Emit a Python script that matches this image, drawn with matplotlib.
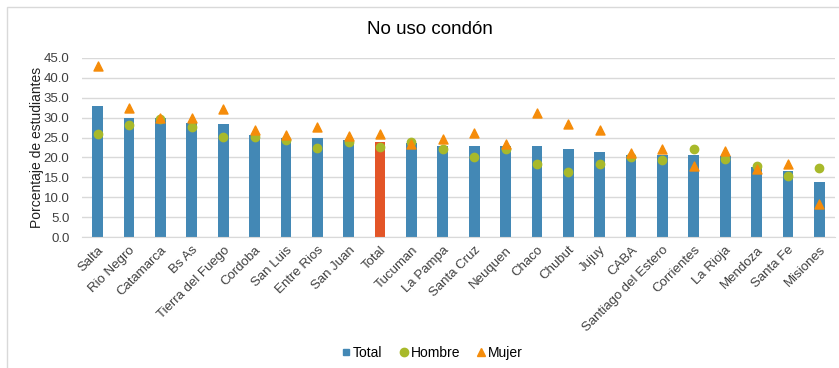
import matplotlib.pyplot as plt
from matplotlib.lines import Line2D
from matplotlib.patches import Rectangle

plt.rcParams['font.family'] = ['Liberation Sans', 'DejaVu Sans']

# ── Datos ─────────────────────────────────────────────────────────────────────
provincias = ["Salta", "Rio Negro", "Catamarca", "Bs As", "Tierra del Fuego", "Cordoba",
              "San Luis", "Entre Rios", "San Juan", "Total", "Tucuman", "La Pampa",
              "Santa Cruz", "Neuquen", "Chaco", "Chubut", "Jujuy", "CABA",
              "Santiago del Estero", "Corrientes", "La Rioja", "Mendoza", "Santa Fe", "Misiones"]
total  = [33.0, 30.0, 29.8, 28.7, 28.5, 25.7, 25.0, 25.0, 24.5, 24.0, 23.6, 23.0,
          23.0, 22.8, 22.8, 22.2, 21.3, 20.6, 20.5, 20.5, 20.3, 17.5, 16.7, 13.8]
hombre = [25.9, 28.2, 29.7, 27.7, 25.1, 25.1, 24.3, 22.4, 23.9, 22.7, 24.0, 22.0,
          20.0, 22.2, 18.3, 16.3, 18.4, 20.1, 19.4, 22.2, 19.6, 17.9, 15.3, 17.4]
mujer  = [42.9, 32.4, 29.9, 29.8, 32.3, 26.9, 25.6, 27.6, 25.3, 25.8, 23.5, 24.6,
          26.1, 23.3, 31.1, 28.5, 26.8, 21.1, 22.0, 17.8, 21.5, 17.2, 18.4, 8.3]

c_bar, c_tot, c_h, c_m = "#4388B5", "#E35527", "#A8B92A", "#F58C0A"

# ── Gráfica ───────────────────────────────────────────────────────────────────
fig = plt.figure(figsize=(8.39, 3.68), dpi=100)
ax = fig.add_axes([82/839, 1-237/368, (835-82)/839, (237-58)/368])

x = range(len(provincias))
colores = [c_tot if p == "Total" else c_bar for p in provincias]
ax.bar(x, total, width=0.34, color=colores, zorder=2)
ax.scatter(x, hombre, marker="o", s=36, color=c_h, zorder=3)
ax.scatter(x, mujer, marker="^", s=42, color=c_m, zorder=4)

ax.set_xlim(-0.5, len(provincias) - 0.5)
ax.set_ylim(0, 45)
ax.set_yticks([i * 5 for i in range(10)])
ax.set_yticklabels([f"{i*5:.1f}" for i in range(10)], fontsize=9.5, color="#404040")
ax.set_xticks(list(x))
ax.set_xticklabels(provincias, rotation=45, ha="right", rotation_mode="anchor",
                   fontsize=9.5, color="#404040")
ax.tick_params(axis="y", length=0, pad=9)
ax.tick_params(axis="x", length=0, pad=5)
ax.grid(axis="y", color="#D9D9D9", lw=1, zorder=0)
for s in ["top", "right", "left"]:
    ax.spines[s].set_visible(False)
ax.spines["bottom"].set_color("#D9D9D9")
ax.set_ylabel("Porcentaje de estudiantes", fontsize=10, color="#202020", labelpad=0)

fig.text(0.513, 1 - 30/368, "No uso condón", ha="center", va="center", fontsize=13.5)

handles = [Line2D([], [], marker="s", ls="", color=c_bar, markersize=5),
           Line2D([], [], marker="o", ls="", color=c_h, markersize=6),
           Line2D([], [], marker="^", ls="", color=c_m, markersize=6)]
fig.legend(handles, ["Total", "Hombre", "Mujer"], loc="center", ncol=3,
           bbox_to_anchor=(431/839, 1 - 353/368), frameon=False, fontsize=10,
           handletextpad=0.0, columnspacing=1.0, handlelength=1.0)

fig.patches.append(Rectangle((7/839, -0.1), 1.0, 1 - 7/368 + 0.1, transform=fig.transFigure,
                             fill=False, ec="#D9D9D9", lw=1))

fig.savefig("out.png", dpi=100)
